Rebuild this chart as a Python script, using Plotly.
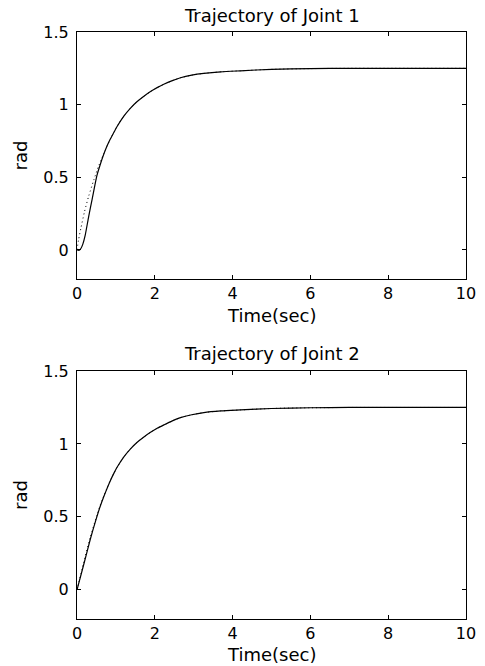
import plotly.graph_objects as go
from plotly.subplots import make_subplots

# Joint 1: actual (solid) and desired (dotted)
t1_actual = [0, 0.05, 0.1, 0.15, 0.21, 0.3, 0.39, 0.51, 0.6, 0.69, 0.78, 0.86, 0.95, 1.03, 1.2, 1.37,
             1.54, 1.72, 1.89, 2.06, 2.23, 2.45, 2.66, 2.95, 3.26, 3.7, 4.2, 5.0, 6.0, 7.0, 8.0, 10.0]
q1_actual = [0, -0.003, 0.01, 0.04, 0.10, 0.23, 0.35, 0.51, 0.59, 0.66, 0.72, 0.765, 0.81, 0.85, 0.92, 0.975,
             1.02, 1.058, 1.09, 1.117, 1.14, 1.165, 1.185, 1.203, 1.215, 1.226, 1.233, 1.243, 1.248, 1.25, 1.25, 1.25]
t1_desired = [0, 0.04, 0.1, 0.19, 0.3, 0.43, 0.56, 0.69, 0.78, 0.86, 0.95, 1.03, 1.2, 1.37,
              1.54, 1.72, 1.89, 2.06, 2.23, 2.45, 2.66, 2.95, 3.26, 3.7, 4.2, 5.0, 6.0, 7.0, 8.0, 10.0]
q1_desired = [0, 0.07, 0.15, 0.26, 0.37, 0.48, 0.58, 0.665, 0.72, 0.765, 0.81, 0.85, 0.92, 0.975,
              1.02, 1.058, 1.09, 1.117, 1.14, 1.165, 1.185, 1.203, 1.215, 1.226, 1.233, 1.243, 1.248, 1.25, 1.25, 1.25]

# Joint 2: actual (solid) and desired (dotted)
t2_actual = [0, 0.17, 0.34, 0.51, 0.6, 0.69, 0.78, 0.86, 0.95, 1.03, 1.2, 1.37, 1.54, 1.72, 1.89, 2.06,
             2.23, 2.45, 2.66, 2.95, 3.26, 3.7, 4.2, 5.0, 6.0, 7.0, 8.0, 10.0]
q2_actual = [0, 0.17, 0.345, 0.50, 0.575, 0.64, 0.70, 0.75, 0.80, 0.84, 0.91, 0.965, 1.01, 1.048, 1.08, 1.107,
             1.13, 1.158, 1.18, 1.2, 1.215, 1.226, 1.233, 1.243, 1.248, 1.25, 1.25, 1.25]
t2_desired = [0, 0.17, 0.34, 0.51, 0.6, 0.69, 0.78, 0.86, 0.95, 1.03, 1.2, 1.37, 1.54, 1.72, 1.89, 2.06,
              2.23, 2.45, 2.66, 2.95, 3.26, 3.7, 4.2, 5.0, 6.0, 7.0, 8.0, 10.0]
q2_desired = [0, 0.185, 0.36, 0.51, 0.583, 0.645, 0.703, 0.752, 0.80, 0.84, 0.91, 0.965, 1.01, 1.048, 1.08, 1.107,
              1.13, 1.158, 1.18, 1.2, 1.215, 1.226, 1.233, 1.243, 1.248, 1.25, 1.25, 1.25]

titles = ["Trajectory of Joint 1", "Trajectory of Joint 2"]
x_label = "Time(sec)"
y_label = "rad"
x_ticks = [0, 2, 4, 6, 8, 10]
y_ticks = [0, 0.5, 1, 1.5]
y_tick_text = ["0", "0.5", "1", "1.5"]

W, H = 485, 666
ML, MR, MT, MB = 77, 19, 32, 47
PH = H - MT - MB

def fy(py):
    return 1 - (py - MT) / PH

fig = make_subplots(rows=2, cols=1)
fig.update_layout(
    xaxis=dict(domain=[0, 1]), xaxis2=dict(domain=[0, 1]),
    yaxis=dict(domain=[fy(279), 1]), yaxis2=dict(domain=[0, fy(371)]),
)

series = [(t1_actual, q1_actual, t1_desired, q1_desired), (t2_actual, q2_actual, t2_desired, q2_desired)]
for i, (ta, qa, td, qd) in enumerate(series, start=1):
    fig.add_trace(go.Scatter(x=td, y=qd, mode="lines", line=dict(color="black", width=1, dash="1px,3px",
                                                                 shape="spline", smoothing=0.6),
                             showlegend=False, hoverinfo="skip"), row=i, col=1)
    fig.add_trace(go.Scatter(x=ta, y=qa, mode="lines", line=dict(color="black", width=1.2,
                                                                 shape="spline", smoothing=0.6),
                             showlegend=False, hoverinfo="skip"), row=i, col=1)

tickfont = dict(family="DejaVu Sans", size=16, color="black")
labfont = dict(family="DejaVu Sans", size=18, color="black")

axis_common = dict(showline=True, linecolor="black", linewidth=1.2, mirror="ticks", ticks="inside",
                   ticklen=4, tickcolor="black", showgrid=False, zeroline=False, tickfont=tickfont,
                   automargin=False)
for i in (1, 2):
    fig.update_xaxes(range=[0, 10], tickvals=x_ticks, ticktext=[str(v) for v in x_ticks],
                     ticklabelstandoff=0, row=i, col=1, **axis_common)
    fig.update_yaxes(range=[-0.2, 1.5], tickvals=y_ticks, ticktext=y_tick_text,
                     title=dict(text=y_label, font=labfont, standoff=10), ticklabelstandoff=4,
                     row=i, col=1, **axis_common)

for text, py in zip(titles, [15, 353]):
    fig.add_annotation(text=text, x=0.5, xref="paper", y=fy(py), yref="paper", yanchor="middle",
                       showarrow=False, font=labfont, borderpad=0)
for py in (315, 654):
    fig.add_annotation(text=x_label, x=0.5, xref="paper", y=fy(py), yref="paper", yanchor="middle",
                       showarrow=False, font=labfont, borderpad=0)

fig.update_layout(width=W, height=H, margin=dict(l=ML, r=MR, t=MT, b=MB, autoexpand=False),
                  plot_bgcolor="white", paper_bgcolor="white")
fig.write_html("out.html", config={"displayModeBar": False},
               post_script="document.body.style.margin='0';document.body.style.overflow='hidden';")
